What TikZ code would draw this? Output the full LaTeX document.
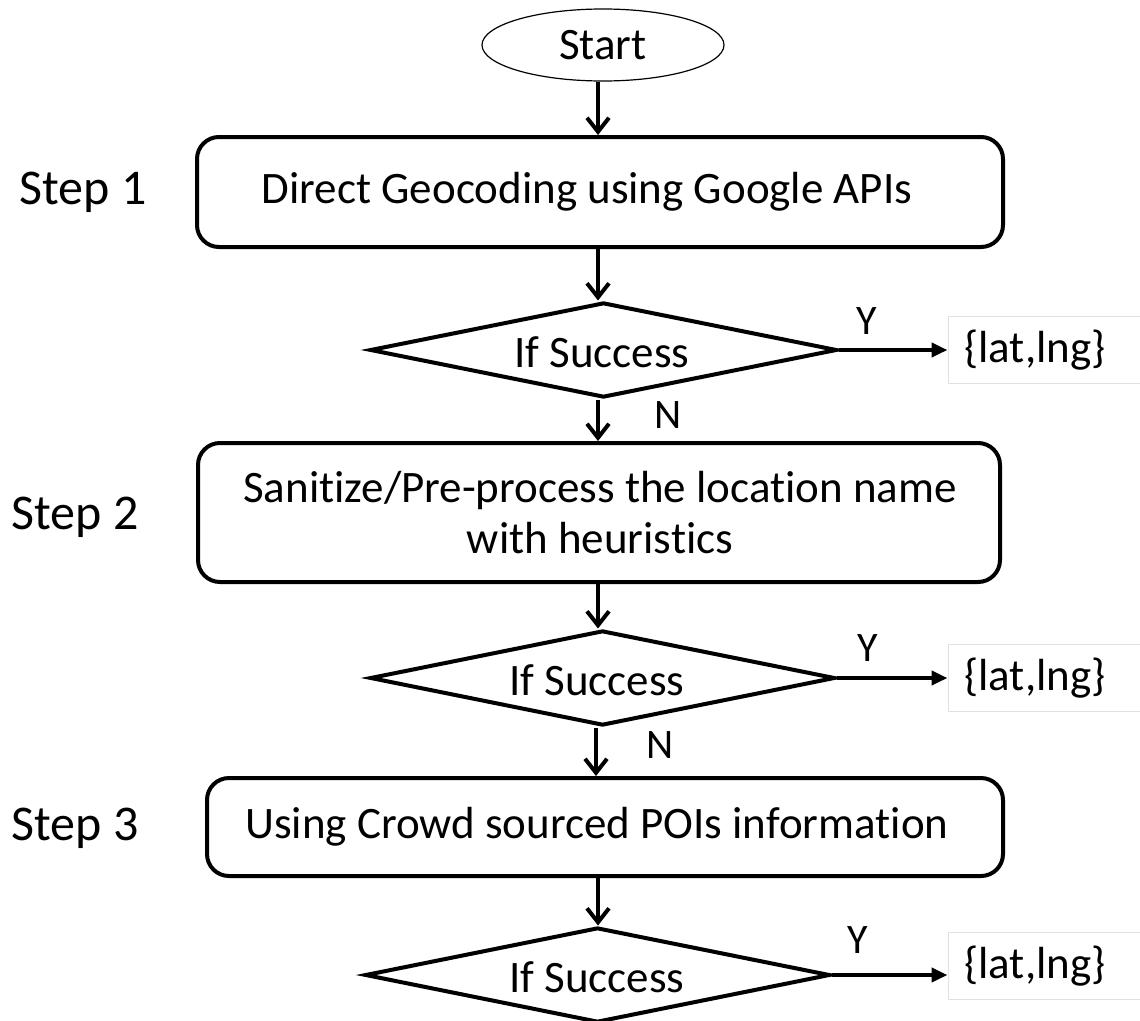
\documentclass[tikz,border=0pt]{standalone}
\usepackage{fontspec}
\setmainfont{Carlito}[Ligatures={NoCommon}]
\usetikzlibrary{shapes.geometric,arrows.meta}
\begin{document}
\begin{tikzpicture}[x=1pt,y=-1pt,
  txt/.style={font=\fontsize{45}{54}\selectfont, inner sep=0pt},
  steplabel/.style={font=\fontsize{50}{60}\selectfont, inner sep=0pt},
  yn/.style={font=\fontsize{42}{50}\selectfont, inner sep=0pt},
  procbox/.style={draw, line width=4pt, rounded corners=22pt, inner sep=0pt},
  decision/.style={draw, diamond, line width=4pt, inner sep=0pt},
  outbox/.style={draw=black!12, line width=1pt, inner sep=0pt},
  down/.style={line width=4pt, -{Straight Barb[length=14pt,width=22pt,line width=4pt]}},
  right/.style={line width=4pt, -{Triangle[length=16pt,width=14pt]}}
]
\useasboundingbox (0,0) rectangle (1140,1020);
\clip (0,0) rectangle (1140,1020);

% start terminal
\node[draw, ellipse, line width=1.2pt, minimum width=242pt, minimum height=72pt, inner sep=0pt,
      font=\fontsize{45}{54}\selectfont] (start) at (603,45) {Start};

% step 1
\node[procbox, minimum width=806pt, minimum height=110pt] (s1) at (600,192) {};
\node[txt] (t1) at (587,192) {Direct Geocoding using Google APIs};
\node[steplabel] (l1) at (83,192) {Step 1};
\node[decision, minimum width=467pt, minimum height=95pt] (d1) at (603.5,350) {};
\node[txt] (q1) at (602,352) {If Success};
\node[outbox, minimum width=192pt, minimum height=67pt] (o1) at (1044,350) {};
\node[txt] (r1) at (1035,350) {\{lat,lng\}};

% step 2
\node[procbox, minimum width=802pt, minimum height=139pt] (s2) at (599,512.5) {};
\node[txt, align=center] (t2) at (600,513) {Sanitize/Pre-process the location name\\[-3pt]with heuristics};
\node[steplabel] (l2) at (75,517) {Step 2};
\node[decision, minimum width=465pt, minimum height=95pt] (d2) at (602.5,678) {};
\node[txt] (q2) at (597,680) {If Success};
\node[outbox, minimum width=192pt, minimum height=67pt] (o2) at (1044,678) {};
\node[txt] (r2) at (1035,678) {\{lat,lng\}};

% step 3
\node[procbox, minimum width=796pt, minimum height=98pt] (s3) at (605,827) {};
\node[txt] (t3) at (597,827) {Using Crowd sourced POIs information};
\node[steplabel] (l3) at (75,828) {Step 3};
\node[decision, minimum width=465pt, minimum height=95pt] (d3) at (597.5,975) {};
\node[txt] (q3) at (597,977) {If Success};
\node[outbox, minimum width=192pt, minimum height=67pt] (o3) at (1044,966) {};
\node[txt] (r3) at (1035,966) {\{lat,lng\}};

% flow connectors
\draw[down] (start.south -| 598,0) -- (s1.north -| 598,0);
\draw[down] (s1.south -| 598,0) -- (d1.north -| 598,0);
\draw[down] (d1.south -| 598,0) -- (s2.north -| 598,0);
\draw[down] (s2.south -| 598,0) -- (d2.north -| 598,0);
\draw[down] (d2.south -| 596,0) -- (s3.north -| 596,0);
\draw[down] (s3.south -| 598,0) -- (d3.north -| 598,0);

\draw[right] (d1.east) -- (o1.west |- d1.east);
\draw[right] (d2.east) -- (o2.west |- d2.east);
\draw[right] (d3.east) -- (o3.west |- d3.east);

% branch labels
\node[yn] (y1) at (867,321) {Y};
\node[yn] (y2) at (868,648) {Y};
\node[yn] (y3) at (858,940) {Y};
\node[yn] (n1) at (668,415) {N};
\node[yn] (n2) at (660,745) {N};
\end{tikzpicture}
\end{document}
